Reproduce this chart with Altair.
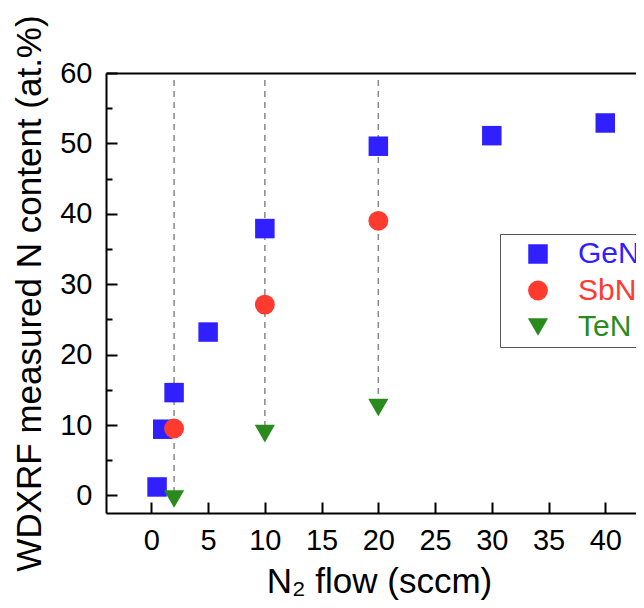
import altair as alt
import pandas as pd

# ---- data ----
gen_x = [0.5, 1, 2, 5, 10, 20, 30, 40]
gen_y = [1.2, 9.4, 14.6, 23.2, 37.9, 49.6, 51.1, 52.9]
sbn_x = [2, 10, 20]
sbn_y = [9.5, 27.1, 39.0]
ten_x = [2, 10, 20]
ten_y = [0.0, 9.3, 13.0]
drop_top = 59.0

series_names = ["GeN", "SbN", "TeN"]
series_colors = ["#3020FF", "#FF3A2F", "#2A8A1E"]
series_shapes = ["square", "circle", "triangle-down"]
series_sizes = [380, 410, 660]

x_ticks = [0, 5, 10, 15, 20, 25, 30, 35, 40]
y_major = [0, 10, 20, 30, 40, 50, 60]
y_minor = [5, 15, 25, 35, 45, 55]

W, H = 530, 440
X_MAX = -4 + W / 11.347   # plot continues past the right edge of the picture
FONT = "Liberation Sans"

rows = []
for n, xs, ys in [("GeN", gen_x, gen_y), ("SbN", sbn_x, sbn_y), ("TeN", ten_x, ten_y)]:
    for a, b in zip(xs, ys):
        rows.append({"series": n, "flow": a, "N": b})
df = pd.DataFrame(rows)
df_main = df[df.series != "TeN"]
df_ten = df[df.series == "TeN"]
df_drop = pd.DataFrame({"flow": ten_x, "top": [drop_top] * len(ten_x), "bot": ten_y})

xscale = alt.Scale(domain=[-4, X_MAX], nice=False, zero=False)
yscale = alt.Scale(domain=[-2.5, 60], nice=False, zero=False)

label_color_expr = (
    f"datum.value == '{series_names[0]}' ? '{series_colors[0]}' : "
    f"datum.value == '{series_names[1]}' ? '{series_colors[1]}' : '{series_colors[2]}'"
)

legend = alt.Legend(
    orient="none", legendX=394, legendY=161, title=None,
    padding=5, rowPadding=6.5, strokeColor="#555555", fillColor="white",
    labelFont=FONT, labelFontSize=30, labelColor=alt.ExprRef(expr=label_color_expr),
    symbolOffset=18, labelOffset=25, symbolStrokeWidth=0, symbolOpacity=1,
)

color_enc = alt.Color("series:N", scale=alt.Scale(domain=series_names, range=series_colors), legend=legend)
shape_enc = alt.Shape("series:N", scale=alt.Scale(domain=series_names, range=series_shapes), legend=legend)
size_enc = alt.Size("series:N", scale=alt.Scale(domain=series_names, range=series_sizes), legend=legend)

# dashed drop lines; carries the top frame line and minor inward y ticks
drops = alt.Chart(df_drop).mark_rule(strokeDash=[6, 5], color="#888888", strokeWidth=1.5).encode(
    x=alt.X("flow:Q", scale=xscale, axis=alt.Axis(
        orient="top", ticks=False, labels=False, grid=False, title=None,
        domain=True, domainColor="black", domainWidth=2)),
    y=alt.Y("top:Q", scale=yscale, axis=alt.Axis(
        orient="right", offset=-W, values=y_minor, tickSize=6, tickWidth=2, tickColor="black",
        labels=False, domain=False, grid=False, title=None)),
    y2="bot:Q",
)

# GeN + SbN, carrying the main labelled axes with inward ticks
main = alt.Chart(df_main).mark_point(filled=True, opacity=1, strokeWidth=0).encode(
    x=alt.X("flow:Q", scale=xscale, axis=alt.Axis(
        orient="top", offset=-H, values=x_ticks, tickSize=11, tickWidth=2, tickColor="black",
        domain=True, domainColor="black", domainWidth=2, grid=False,
        labelPadding=-24, labelBaseline="top", labelAlign="center",
        labelFont=FONT, labelFontSize=29, labelColor="black", labelFlush=False,
        title="N₂ flow (sccm)", titleFont=FONT, titleFontSize=35, titleFontWeight="normal",
        titleColor="black", titleX=273, titleY=79, titleBaseline="alphabetic", titleAlign="center",
        titleAngle=0)),
    y=alt.Y("N:Q", scale=yscale, axis=alt.Axis(
        orient="right", offset=-W, values=y_major, tickSize=11, tickWidth=2, tickColor="black",
        domain=True, domainColor="black", domainWidth=2, grid=False,
        labelPadding=-25, labelAlign="right", labelBaseline="middle",
        labelFont=FONT, labelFontSize=29, labelColor="black", labelFlush=False,
        title="WDXRF measured N content (at.%)", titleFont=FONT, titleFontSize=35,
        titleFontWeight="normal", titleColor="black", titleAngle=-90, titleX=-66, titleY=220,
        titleBaseline="alphabetic", titleAlign="center")),
    color=color_enc, shape=shape_enc, size=size_enc,
)

# TeN (Origin centres down-triangles on their centroid)
ten = alt.Chart(df_ten).mark_point(filled=True, opacity=1, strokeWidth=0, yOffset=3.7).encode(
    x=alt.X("flow:Q", scale=xscale, axis=None),
    y=alt.Y("N:Q", scale=yscale, axis=None),
    color=color_enc, shape=shape_enc, size=size_enc,
)

chart = alt.layer(drops, main, ten).resolve_axis(x="independent", y="independent").properties(
    width=W, height=H,
    autosize=alt.AutoSizeParams(type="none"),
    padding={"left": 98, "top": 65, "right": 0, "bottom": 87},
).configure(font=FONT, view=alt.ViewConfig(stroke=None, strokeWidth=0))

chart.save("out.html", embed_options={"renderer": "svg", "actions": False})
